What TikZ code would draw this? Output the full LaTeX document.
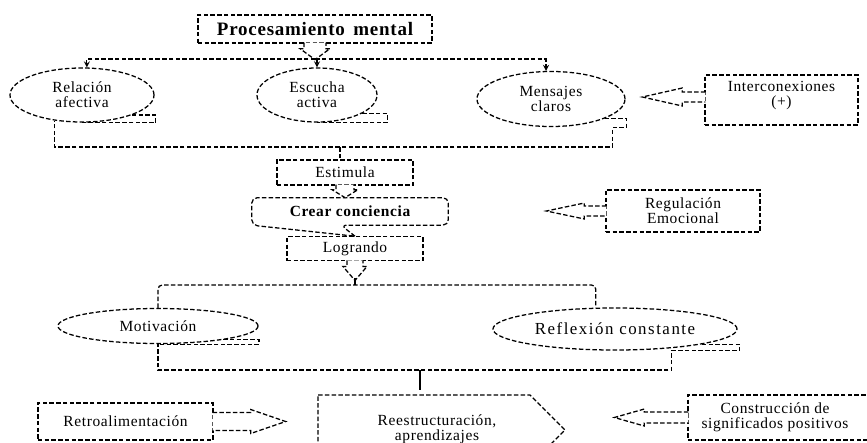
\documentclass[tikz,border=0pt]{standalone}
\usepackage{fontspec}
\setmainfont{Liberation Serif}[LetterSpace=4.0]
\usetikzlibrary{positioning,shapes.geometric}

\begin{document}
\begin{tikzpicture}[
		x=0.025cm,y=-0.025cm,
		>=stealth,
		dsh/.style={draw=black,line width=0.9pt,dash pattern=on 3.2pt off 1.6pt},
		every node/.append style={
			inner sep=0pt,
			align=center,
			font=\fontsize{11}{10.5}\selectfont,
		},
		box/.style={dsh,rectangle},
		bub/.style={dsh,ellipse},
		heavy/.style={font=\fontsize{11}{10.5}\selectfont\bfseries},
	]
	\useasboundingbox (0,0) rectangle (867,442);
	\clip (0,0) rectangle (867,442);
	% top row
	\node[box,minimum width=5.85cm,minimum height=0.7cm,font=\fontsize{13.5}{15}\selectfont\bfseries] (proc) at (315,29) {Procesamiento\hspace{0.45em}mental};
	\node[bub,minimum width=3.6cm,minimum height=1.35cm] (rel) at (82,95) {Relación\\afectiva};
	\node[bub,minimum width=3cm,minimum height=1.35cm] (esc) at (317,95) {Escucha\\activa};
	\node[bub,minimum width=3.7cm,minimum height=1.375cm] (mens) at (551,99) {Mensajes\\claros};
	\node[box,minimum width=3.825cm,minimum height=1.25cm] (inter) at (781.5,100) {Interconexiones\\(+)\\[-5pt]\strut};
	% middle column
	\node[box,minimum width=3.4cm,minimum height=0.625cm] (est) at (345,172.5) {Estimula};
	\node[heavy,minimum width=4.9cm,minimum height=0.675cm] (crear) [below=0.3cm of est,xshift=0.125cm] {Crear conciencia};
	\node[box,minimum width=3.4cm,minimum height=0.6cm] (log) [below=0.275cm of crear,xshift=0.125cm] {Logrando};
	\node[box,minimum width=3.85cm,minimum height=1.05cm] (reg) at (683,211) {Regulación\\Emocional};
	% second row
	\node[bub,minimum width=5cm,minimum height=0.875cm] (mot) at (158,326) {Motivación};
	\node[bub,minimum width=6.1cm,minimum height=1.05cm,font=\fontsize{12}{12}\selectfont\addfontfeature{LetterSpace=9}] (ref) at (615,329) {Reflexión constante};
	% bottom row
	\node[box,minimum width=4.375cm,minimum height=0.925cm] (retro) at (125.5,421.5) {Retroalimentación};
	\node (reest) at (437,429) {Reestructuración,\\aprendizajes};
	\node[box,minimum width=5.2cm,minimum height=1.125cm] (constr) at (792,417.5) {Construcción de\hspace*{0.85cm}\\significados positivos\hspace*{0.85cm}};
	\draw[dsh] (318,395) -- (530,395) -- (565,430) -- (530,465) -- (318,465) -- cycle;
	% tabs of the ellipses
	\draw[dsh] (rel.-22) -- ++(24,0) |- (rel.south);
	\draw[dsh] (esc.-22) -- ++(25,0) |- (esc.south);
	\draw[dsh] (mot.-12) -- ++(36,0) |- (mot.south);
	% crear conciencia outline
	\draw[dsh,rounded corners=4pt] (log.north) -- ++(-14,-11) -- (crear.south east) -- (crear.north east)
		-- (crear.north west) -- (crear.south west) -- (log.north);
	% hollow arrows
	\draw[dsh,fill=white] (proc.south) ++(-11,-1) -- ++(0,6) -- ++(-4,0) -- ++(15,11) -- ++(15,-11) -- ++(-4,0) -- ++(0,-6);
	\draw[dsh,fill=white] (est.south) ++(-9,-1) -- ++(0,5) -- ++(-4,0) -- ++(13,8) -- ++(13,-8) -- ++(-4,0) -- ++(0,-5);
	\draw[dsh,fill=white] (log.south) ++(-8,-1) -- ++(0,6) -- ++(-4,0) -- ++(12,14) -- ++(12,-14) -- ++(-4,0) -- ++(0,-6);
	\draw[dsh,fill=white] (inter.west) ++(1,-8) -- ++(-23,0) -- ++(0,-4) -- ++(-40,9) -- ++(40,9) -- ++(0,-4) -- ++(23,0);
	\draw[dsh,fill=white] (reg.west) ++(1,-5) -- ++(-22,0) -- ++(0,-3) -- ++(-38,8) -- ++(38,8) -- ++(0,-3) -- ++(22,0);
	\draw[dsh,fill=white] (retro.east) ++(-1,-9) -- ++(38,0) -- ++(0,-3) -- ++(35,12) -- ++(-35,12) -- ++(0,-3) -- ++(-38,0);
	\draw[dsh,fill=white] (constr.west) ++(1,-5.5) -- ++(-44,0) -- ++(0,-3) -- ++(-30,8.5) -- ++(30,8.5) -- ++(0,-3) -- ++(44,0);
	% connection lines
	\coordinate (hub1) at (315,59);
	\coordinate (join1) at (340,147);
	\coordinate (hub2) at (355,285);
	\coordinate (join3) at (420,370);
	\draw[dsh,->] (hub1) -| (rel.80);
	\draw[dsh,->] (hub1) -| (mens.100);
	\draw[dsh,->] (hub1 -| esc.north) -- (esc.north);
	\draw[dsh] (mens.-20) -- ++(22,0) |- ++(-14,9) |- (join1) -| (rel.223);
	\draw[dsh] (join1) -- (join1 |- est.north);
	\draw[line width=0.9pt] (hub2) -- ++(0,-7);
	\draw[dsh,rounded corners=3pt] (mot.north) |- (hub2) -| (ref.132);
	\draw[dsh] (ref.-10) -- ++(38,0) |- ++(-68,6) |- (join3) -| (mot.south);
	\draw[line width=0.9pt] (join3) -- ++(0,20);
\end{tikzpicture}
\end{document}
